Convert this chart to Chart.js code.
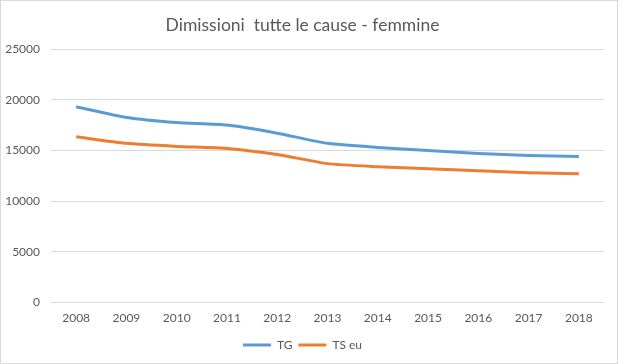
<!DOCTYPE html>
<html>
<head>
<meta charset="utf-8">
<script src="https://cdn.jsdelivr.net/npm/chart.js@4.4.1/dist/chart.umd.min.js"></script>
<style>
  html, body { margin: 0; padding: 0; background: #fff; }
  .box { width: 618px; height: 364px; box-sizing: border-box; border: 1px solid #d9d9d9; }
  .box canvas { display: block; }
</style>
</head>
<body>
<div class="box">
  <canvas id="chart" width="616" height="362"></canvas>
</div>
<script>
const years = ["2008", "2009", "2010", "2011", "2012", "2013", "2014", "2015", "2016", "2017", "2018"];
const tg = [19300, 18250, 17750, 17500, 16700, 15700, 15300, 15000, 14700, 14500, 14400];
const tsEu = [16350, 15700, 15400, 15200, 14600, 13700, 13400, 13200, 13000, 12800, 12700];
const yTicks = [0, 5000, 10000, 15000, 20000, 25000];

const textColor = "#595959";
const font = "Lato, 'Open Sans', sans-serif";

const ctx = document.getElementById("chart").getContext("2d");
const myChart = new Chart(ctx, {
  type: "line",
  data: {
    labels: years,
    datasets: [
      {
        label: "TG",
        data: tg,
        borderColor: "#5b9bd5",
        backgroundColor: "#5b9bd5",
        borderWidth: 3,
        pointRadius: 0,
        tension: 0.2,
      },
      {
        label: "TS eu",
        data: tsEu,
        borderColor: "#ed7d31",
        backgroundColor: "#ed7d31",
        borderWidth: 3,
        pointRadius: 0,
        tension: 0.2,
      },
    ],
  },
  options: {
    responsive: false,
    animation: false,
    layout: { padding: { left: 0, right: 13, top: 0, bottom: 2 } },
    plugins: {
      title: {
        display: true,
        text: "Dimissioni  tutte le cause - femmine",
        color: textColor,
        font: { family: font, size: 17.5, weight: "normal" },
        padding: { top: 14, bottom: 13 },
      },
      legend: {
        position: "bottom",
        labels: {
          color: textColor,
          font: { family: font, size: 12 },
          boxWidth: 28,
          boxHeight: 3,
          padding: 6,
          generateLabels: (chart) =>
            Chart.defaults.plugins.legend.labels.generateLabels(chart).map((l) => ({ ...l, lineWidth: 0 })),
        },
      },
      tooltip: { enabled: false },
    },
    scales: {
      x: {
        offset: true,
        grid: { display: false, drawTicks: false },
        border: { display: false },
        ticks: { color: textColor, font: { family: font, size: 12 }, padding: 8, maxRotation: 0 },
      },
      y: {
        min: 0,
        max: 25000,
        afterFit: (s) => { s.width = 50; },
        afterBuildTicks: (s) => { s.ticks = yTicks.map((v) => ({ value: v })); },
        grid: { color: "#d9d9d9", drawTicks: false },
        border: { display: false },
        ticks: { color: textColor, font: { family: font, size: 12 }, padding: 11, callback: (v) => String(v) },
      },
    },
  },
});
</script>
</body>
</html>
